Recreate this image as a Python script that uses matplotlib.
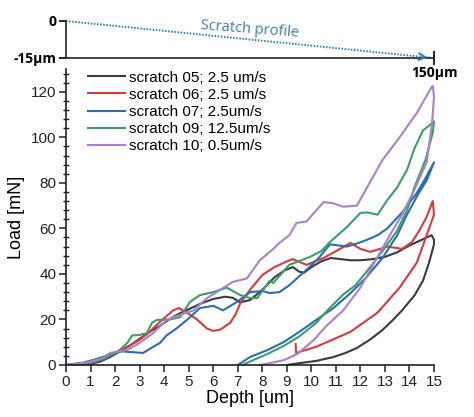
import matplotlib
matplotlib.use("Agg")
import matplotlib.pyplot as plt
from matplotlib.ticker import MultipleLocator

plt.rcParams['font.family'] = ['Liberation Sans', 'DejaVu Sans']

# scratch curves: loading (noisy) then unloading back to residual depth
depth_05 = [0, 0.6, 1.0, 1.4, 1.8, 2.2, 2.6, 3.0, 3.4, 3.8, 4.2, 4.6, 5.0, 5.5, 6.0, 6.5,
            6.8, 7.1, 7.5, 8.0, 8.5, 8.9, 9.25, 9.5, 9.7, 10.0, 10.4, 10.8, 11.2, 11.6,
            12.0, 12.5, 13.0, 13.5, 14.0, 14.5, 14.9, 15.0, 15.0, 14.8, 14.55, 14.2,
            13.7, 13.3, 12.9, 12.4, 11.86, 11.4, 10.9, 10.2, 9.5, 9.0]
load_05 = [0, 0.2, 0.5, 1.5, 3.5, 6, 8.5, 11.5, 14.5, 17, 20, 22.5, 24.5, 27, 29, 30,
           29.5, 27.5, 28.5, 33, 38.5, 41.5, 43, 41, 40.5, 43, 45.5, 47, 46.5, 46,
           46, 46.5, 47.5, 49.5, 52.5, 55, 57, 55, 53, 45, 37, 30.5,
           24, 19.5, 15.4, 11.2, 7.5, 5.3, 3.5, 1.8, 0.8, 0]

depth_06 = [0, 0.5, 0.8, 1.2, 1.6, 2.0, 2.5, 3.0, 3.4, 3.83, 4.37, 4.6, 4.93, 5.34, 5.75,
            6.0, 6.28, 6.69, 6.9, 7.1, 7.5, 8.0, 8.5, 9.0, 9.25, 9.8, 10.5, 11.0, 11.6,
            12.0, 12.4, 12.8, 13.1, 13.7, 14.1, 14.4, 14.7, 14.95, 15.0, 14.3, 13.6,
            12.7, 11.6, 10.2, 9.38, 9.36]
load_06 = [0, 0.8, 0.5, 1.5, 3, 5.5, 8, 11, 14.5, 19, 24, 25, 23, 20, 16,
           15, 15.5, 18.5, 22, 27, 33, 39.5, 43, 45.5, 46.5, 44, 47, 50, 53.6,
           51, 49.7, 51, 52, 51, 54, 59, 65, 72, 66, 45, 34,
           23, 14.6, 8, 5.3, 9.2]

depth_07 = [0, 0.5, 1.1, 1.5, 1.9, 2.3, 2.6, 3.15, 3.4, 3.83, 4.1, 4.5, 4.93, 5.46, 6.0,
            6.4, 6.97, 7.5, 8.0, 8.3, 8.7, 9.1, 9.8, 10.3, 10.76, 11.1, 11.45, 11.9,
            12.27, 12.7, 13.1, 13.7, 14.3, 14.6, 15.0, 14.7, 14.35, 13.9, 13.5, 12.9,
            12.2, 11.6, 10.9, 10.2, 9.5, 8.86, 8.2, 7.5, 7.0]
load_07 = [0, 0.5, 2.2, 3.5, 5.2, 6, 5.7, 5.3, 7, 9.7, 13, 16, 19.8, 25, 26,
           24, 27.7, 32, 32.5, 31.6, 32, 35, 41.8, 47, 53, 52.5, 52, 53.5,
           55, 57, 60, 67, 75.6, 81, 89, 81, 75, 66, 57, 47,
           38, 31.6, 25, 19.8, 14.5, 10, 6.5, 3.5, 0]

depth_09 = [0, 0.5, 1.0, 1.5, 2.1, 2.5, 2.7, 3.0, 3.3, 3.5, 3.7, 4.24, 4.65, 5.05, 5.46,
            6.0, 6.55, 7.1, 7.5, 7.8, 8.3, 8.45, 9.1, 9.95, 10.4, 10.76, 11.45, 12.0,
            12.3, 12.7, 13.1, 13.5, 13.9, 14.2, 14.55, 14.9, 15.0, 14.95, 14.65, 14.2,
            13.9, 13.5, 12.9, 12.4, 11.8, 11.3, 10.7, 10.2, 9.5, 8.86, 8.2, 7.6, 7.2]
load_09 = [0, 0.3, 1, 2.5, 5.7, 9.7, 13, 13.2, 14, 18.5, 19.8, 20, 21, 27.7, 30.7,
           32, 34, 30.7, 29.4, 29.4, 37, 36, 44, 47.5, 50, 54, 60.6, 66.8,
           67, 66, 72.5, 78, 85.7, 95, 103, 106, 107, 102, 90, 78,
           68, 59, 50, 43, 35, 31, 24.5, 18.5, 12.5, 8.3, 4.8, 2, 0]

depth_10 = [0, 0.5, 1.0, 1.5, 1.8, 2.5, 3.0, 3.55, 4.1, 4.65, 5.2, 5.75, 6.28, 6.8, 7.37,
            7.9, 8.45, 8.7, 9.1, 9.4, 9.8, 10.5, 10.9, 11.3, 11.86, 12.27, 12.9, 13.6,
            14.3, 14.9, 14.95, 15.0, 14.92, 14.7, 14.2, 13.7, 13.2, 12.7, 12.0, 11.3,
            10.6, 10.1, 9.45, 8.9, 8.3, 7.9]
load_10 = [0, 0.5, 1.5, 3, 5.3, 6.6, 9.7, 14, 19.8, 22, 24, 29.4, 33, 36.5, 38,
           46, 51, 53.6, 57, 62.4, 63, 71.6, 71, 69.5, 70, 78, 90, 100,
           110.7, 122, 122.5, 118, 106, 89, 77, 66, 57, 47.5, 34, 24,
           17, 11, 5, 2.2, 0.8, 0]

labels = ['scratch 05; 2.5 um/s', 'scratch 06; 2.5 um/s', 'scratch 07; 2.5um/s',
          'scratch 09; 12.5um/s', 'scratch 10; 0.5um/s']
colors = ['#3b3b3b', '#d8393d', '#2b6cb3', '#3a9e68', '#a882c9']

# scratch profile sketch (top)
profile_x = [0, 150]
profile_y = [0, -15]

fig = plt.figure(figsize=(4.74, 4.17), dpi=100)

# --- main: load vs depth ---
ax = fig.add_axes([66 / 474, 1 - 365 / 417, 368 / 474, 296 / 417])
ax.patch.set_alpha(0)
series = [(depth_05, load_05), (depth_06, load_06), (depth_07, load_07),
          (depth_09, load_09), (depth_10, load_10)]
for (d, l), c, lab in zip(series, colors, labels):
    ax.plot(d, l, color=c, lw=1.5, label=lab, clip_on=False)

ax.set_xlim(0, 15)
ax.set_ylim(0, 130)
ax.xaxis.set_major_locator(MultipleLocator(1))
ax.yaxis.set_major_locator(MultipleLocator(20))
ax.yaxis.set_minor_locator(MultipleLocator(4))
for s in ['top', 'right']:
    ax.spines[s].set_visible(False)
for s in ['left', 'bottom']:
    ax.spines[s].set_color('#222222')
    ax.spines[s].set_linewidth(1.2)
ax.tick_params(which='major', direction='out', length=5, width=1.1,
               labelsize=11, colors='#222222', pad=2)
ax.tick_params(which='minor', direction='inout', length=5, width=1.0, colors='#222222')
ax.set_xlabel('Depth [um]', fontsize=13, labelpad=1)
ax.set_ylabel('Load [mN]', fontsize=13, labelpad=4)

ax.legend(loc='upper left', bbox_to_anchor=(0.035, 1.025), frameon=False,
          fontsize=11, handlelength=2.4, handletextpad=0.3, labelspacing=0.2,
          borderaxespad=0.2)

# --- top: scratch profile ---
ax0 = fig.add_axes([66 / 474, 1 - 58 / 417, 368 / 474, 37 / 417])
ax0.patch.set_alpha(0)
ax0.set_xlim(0, 150)
ax0.set_ylim(-15, 0)
for s in ['top', 'right']:
    ax0.spines[s].set_visible(False)
for s in ['left', 'bottom']:
    ax0.spines[s].set_color('#222222')
    ax0.spines[s].set_linewidth(1.2)
ax0.plot([profile_x[0], profile_x[1] - 1.5], [profile_y[0], profile_y[1] + 0.15],
         ls=(0, (0.8, 0.8)), color='#2f7db0', lw=1.4, clip_on=False)
ax0.annotate('', xy=(profile_x[1] - 1.5, profile_y[1]),
             xytext=(profile_x[1] - 6, profile_y[1] + 0.55),
             arrowprops=dict(arrowstyle='->', color='#2f7db0', lw=1.4,
                             mutation_scale=12), annotation_clip=False)
ax0.text(75, -3.6, 'Scratch profile', color='#3a7fa8', fontsize=10.5,
         family='Open Sans', rotation=-4.5, ha='center', va='center')
ax0.set_yticks([0, -15])
ax0.set_yticklabels(['0', '-15µm'], fontweight='bold', family='Open Sans', fontsize=10)
ax0.set_xticks([150])
ax0.set_xticklabels(['150µm'], fontweight='bold', family='Open Sans', fontsize=10)
ax0.tick_params(axis='y', direction='out', length=5, width=1.2, pad=2)
ax0.tick_params(axis='x', direction='inout', length=10, width=1.2, pad=1)

fig.savefig('out.png', dpi=100)
